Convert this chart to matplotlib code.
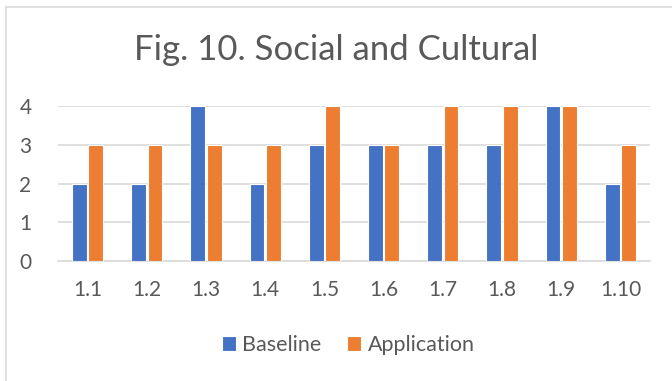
import matplotlib
matplotlib.use("Agg")
import matplotlib.pyplot as plt
import numpy as np
from matplotlib.patches import Rectangle

categories = ["1.1", "1.2", "1.3", "1.4", "1.5", "1.6", "1.7", "1.8", "1.9", "1.10"]
baseline = [2, 2, 4, 2, 3, 3, 3, 3, 4, 2]
application = [3, 3, 3, 3, 4, 3, 4, 4, 4, 3]

BLUE = "#4472C4"
ORANGE = "#ED7D31"
TEXT = "#595959"
GRID = "#D9D9D9"

plt.rcParams["font.family"] = ["Lato", "DejaVu Sans"]

fig = plt.figure(figsize=(6.72, 3.81), dpi=100)
# outer chart border (runs off the right and bottom edges)
fig.patches.append(Rectangle((6 / 672, -0.05), 1.0, 1 - 7 / 381 + 0.05,
                             transform=fig.transFigure, fill=False,
                             edgecolor="#D9D9D9", linewidth=1.2))

ax = fig.add_axes([58 / 672, 1 - 261 / 381, (650 - 58) / 672, (261 - 106) / 381])
x = np.arange(len(categories))
w = 0.25
ax.bar(x - 0.14, baseline, w, color=BLUE, edgecolor="white", linewidth=0.8,
       label="Baseline", zorder=3)
ax.bar(x + 0.14, application, w, color=ORANGE, edgecolor="white", linewidth=0.8,
       label="Application", zorder=3)

ax.set_xlim(-0.5, len(categories) - 0.5)
ax.set_ylim(0, 4)
ax.set_yticks([0, 1, 2, 3, 4])
ax.set_xticks(x)
ax.set_xticklabels(categories)
ax.grid(axis="y", color=GRID, linewidth=1.2, zorder=0)
for s in ["top", "right", "left"]:
    ax.spines[s].set_visible(False)
ax.spines["bottom"].set_color(GRID)
ax.spines["bottom"].set_linewidth(1.2)
ax.tick_params(length=0, labelsize=15, colors=TEXT)
ax.tick_params(axis="x", pad=14)
ax.tick_params(axis="y", pad=19)

fig.text(0.5, 1 - 50 / 381, "Fig. 10. Social and Cultural", ha="center",
         va="center", fontsize=25, color=TEXT)

fig.legend(loc="center", bbox_to_anchor=(348 / 672, 1 - 345 / 381), ncol=2,
           frameon=False, fontsize=15.5, labelcolor=TEXT, handlelength=0.65,
           handleheight=0.65, handletextpad=0.3, columnspacing=1.2)

fig.savefig("out.png", dpi=100)
